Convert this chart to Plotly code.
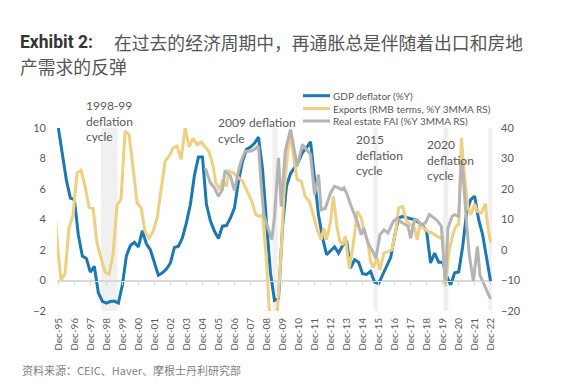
import pandas as pd
import plotly.graph_objects as go

# ---------------- data ----------------
series_names = ["GDP deflator (%Y)", "Exports (RMB terms, %Y 3MMA RS)", "Real estate FAI (%Y 3MMA RS)"]

# GDP deflator, %Y, quarterly from Dec-95 to Dec-22 (left axis)
gdp_start = "1995-12-01"
gdp_deflator = [
    10.0, 8.4, 6.6, 5.4, 5.3, 3.0, 1.6, 1.45, 0.55, 0.93,
    -0.8, -1.37, -1.48, -1.38, -1.35, -1.48, -0.3, 1.6, 2.3, 2.5,
    2.2, 3.27, 2.4, 2.0, 1.2, 0.34, 0.5, 0.75, 1.15, 2.15,
    2.25, 2.8, 3.8, 5.0, 6.9, 8.1, 8.1, 5.0, 3.9, 3.23,
    2.75, 3.56, 3.6, 4.1, 4.76, 6.5, 7.8, 8.6, 8.75, 9.0,
    9.4, 7.3, 3.8, 0.5, -1.3, -1.2, 3.5, 6.2, 7.0, 7.4,
    7.8, 8.4, 8.7, 9.1, 6.5, 4.3, 2.8, 1.7, 1.95, 2.2,
    1.8, 2.3, 2.6, 0.82, 1.37, 1.2, 0.45, 0.4, 0.6, -0.1,
    -0.2, 0.4, 0.9, 1.5, 2.9, 4.1, 4.2, 4.1, 4.05, 4.0,
    3.78, 3.6, 3.23, 1.15, 1.8, 1.2, 1.2, 0.3, -0.28, 0.5,
    0.56, 2.2, 4.5, 5.3, 5.53, 4.0, 3.0, 1.5, -0.1,
]

# Exports (RMB terms, %Y 3MMA), months after Dec-95 (right axis)
exports_months = [
    -2, 0, 2, 5, 8, 11, 14, 17, 20, 23, 26, 29, 32, 35, 38, 41, 44, 47, 50, 53,
    56, 59, 62, 65, 68, 71, 74, 77, 80, 83, 86, 89, 92, 95, 98, 101, 104, 107, 110, 113,
    116, 118, 121, 123, 126, 128, 131, 134, 138, 141, 145, 148, 151, 153, 156, 158, 161, 164, 167, 169,
    172, 174, 176, 179, 182, 185, 188, 191, 194, 197, 199, 201, 204, 206, 209, 211, 213, 215, 218, 221,
    224, 227, 229, 232, 234, 236, 239, 241, 244, 247, 250, 253, 255, 258, 261, 264, 267, 269, 271, 274,
    277, 280, 283, 286, 288, 290, 293, 296, 298, 300, 302, 304, 307, 309, 312, 314, 317, 320, 322, 324,
]
exports_yoy = [
    9.8, -1.6, -9.8, -7.9, 7.2, 11.6, 25.3, 26.1, 20.9, 14.0, 13.6, 2.3, -2.7, -7.3, -7.9, -1.6, 14.7, 16.7, 39.0, 37.9,
    26.9, 15.4, 13.8, 6.1, 3.9, 6.1, 10.5, 19.3, 29.1, 30.8, 33.5, 34.1, 29.7, 40.1, 33.8, 36.6, 34.5, 35.4, 33.8, 32.2,
    27.5, 22.0, 19.8, 23.1, 20.9, 25.9, 25.3, 24.2, 22.6, 19.8, 16.0, 11.6, 11.0, 11.6, -3.8, -19.5, -23.0, -21.0, -0.5, 18.2,
    32.4, 39.0, 31.3, 23.1, 22.6, 17.6, 16.0, 11.6, 6.6, 3.4, 7.2, 3.4, 9.4, 17.6, 7.2, 2.8, 1.7, 4.5, -6.0, 1.7,
    12.7, 10.5, 6.1, 2.8, -3.8, -5.7, -2.7, -6.5, -1.0, -0.5, 0.1, 6.6, 13.8, 14.3, 9.4, 8.3, 7.2, 3.4, 8.3, 7.2,
    6.1, 5.6, 4.8, 3.9, 3.9, -12.0, 0.1, 5.6, 7.8, 8.3, 36.8, 25.9, 13.8, 11.6, 15.1, 12.7, 12.1, 15.2, 7.2, 2.5,
]

# Real estate FAI (%Y 3MMA), months after Dec-95 (right axis)
realestate_months = [
    110, 114, 117, 120, 123, 125, 129, 132, 135, 137, 140, 144, 147, 150, 152, 154, 157, 160, 162, 165,
    167, 170, 174, 177, 179, 183, 186, 189, 192, 195, 197, 200, 204, 207, 210, 212, 214, 216, 219, 222,
    224, 227, 229, 232, 235, 238, 241, 244, 247, 251, 254, 256, 259, 262, 264, 267, 269, 272, 275, 278,
    281, 284, 287, 290, 292, 295, 297, 300, 302, 303, 306, 308, 311, 314, 316, 319, 322, 324,
]
realestate_yoy = [
    26.9, 22.0, 20.4, 17.6, 19.8, 26.1, 24.2, 19.5, 25.9, 29.1, 32.4, 32.4, 33.0, 34.1, 21.4, 11.6, 7.2, 3.4, 11.0, 30.2,
    14.3, 32.4, 39.5, 32.4, 27.5, 34.6, 33.0, 31.3, 18.2, 24.7, 13.2, 13.6, 18.7, 20.9, 20.4, 19.8, 20.4, 18.7, 14.9, 11.6,
    9.4, 5.0, 7.2, 2.3, 0.1, -2.7, 5.0, 6.6, 5.6, 9.4, 10.5, 9.4, 8.5, 7.8, 3.9, 9.9, 9.9, 8.3, 8.8, 11.6,
    10.7, 9.6, 7.8, -10.9, 7.2, 11.0, 11.6, 11.0, 29.1, 26.9, 8.3, -1.6, -10.3, 1.2, -8.2, -11.4, -14.2, -16.0,
]

# deflation cycle shading (start, end)
band_starts = ["1998-08-01", "2009-04-15", "2015-08-10", "2019-12-15", "2022-10-10"]
band_ends = ["1999-08-15", "2009-08-15", "2015-11-15", "2020-04-10", "2022-12-31"]
band_labels = ["1998-99<br>deflation<br>cycle", "2009 deflation<br>cycle",
               "2015<br>deflation<br>cycle", "2020<br>deflation<br>cycle"]

tick_dates = ["1995-12-01", "1996-12-01", "1997-12-01", "1998-12-01", "1999-12-01", "2000-12-01",
              "2001-12-01", "2002-12-01", "2003-12-01", "2004-12-01", "2005-12-01", "2006-12-01",
              "2007-12-01", "2008-12-01", "2009-12-01", "2010-12-01", "2011-12-01", "2012-12-01",
              "2013-12-01", "2014-12-01", "2015-12-01", "2016-12-01", "2017-12-01", "2018-12-01",
              "2019-12-01", "2020-12-01", "2021-12-01", "2022-12-01"]
tick_labels = ["Dec-95", "Dec-96", "Dec-97", "Dec-98", "Dec-99", "Dec-00", "Dec-01", "Dec-02",
               "Dec-03", "Dec-04", "Dec-05", "Dec-06", "Dec-07", "Dec-08", "Dec-09", "Dec-10",
               "Dec-11", "Dec-12", "Dec-13", "Dec-14", "Dec-15", "Dec-16", "Dec-17", "Dec-18",
               "Dec-19", "Dec-20", "Dec-21", "Dec-22"]
left_ticks = [-2, 0, 2, 4, 6, 8, 10]
right_ticks = [-20, -10, 0, 10, 20, 30, 40]

# ---------------- styling ----------------
BLUE = "#1a78b2"
YELLOW = "#efcf80"
GRAY = "#b4b4b4"
colors = [BLUE, YELLOW, GRAY]
TXT = "#595959"
FONT = "Lato"
CJK = "Noto Sans CJK SC"

# the page body has an 8px margin, so the figure is drawn 8px smaller and
# all positions below are given in window pixels and shifted by OFF
OFF = 8
W, H = 561 - OFF, 390 - OFF
PL, PR, PT, PB = 57, 492, 128, 311          # plot area edges in window pixels
L, R, T, B = PL - OFF, W - (PR - OFF), PT - OFF, H - (PB - OFF)


def px(x):
    return (x - PL) / (PR - PL)


def py(y):
    return (PB - y) / (PB - PT)


base = pd.Timestamp("1995-12-01")
gdp_dates = pd.date_range(gdp_start, periods=len(gdp_deflator), freq="3MS")
exp_dates = [base + pd.DateOffset(months=m) for m in exports_months]
re_dates = [base + pd.DateOffset(months=m) for m in realestate_months]
x_range = ["1995-11-01", "2022-12-31"]

fig = go.Figure()
fig.add_trace(go.Scatter(x=gdp_dates, y=gdp_deflator, mode="lines", name=series_names[0],
                         line=dict(color=BLUE, width=3), showlegend=False))
fig.add_trace(go.Scatter(x=exp_dates, y=exports_yoy, mode="lines", name=series_names[1],
                         line=dict(color=YELLOW, width=3), yaxis="y2", showlegend=False))
fig.add_trace(go.Scatter(x=re_dates, y=realestate_yoy, mode="lines", name=series_names[2],
                         line=dict(color=GRAY, width=3), yaxis="y2", showlegend=False))
# carrier for the tick marks drawn along the zero line
fig.add_trace(go.Scatter(x=[], y=[], xaxis="x2", yaxis="y", showlegend=False, hoverinfo="skip"))

for s, e in zip(band_starts, band_ends):
    fig.add_vrect(x0=s, x1=e, fillcolor="#f0f0f0", line_width=0, layer="below")

fig.update_layout(
    template="none",
    width=W, height=H,
    margin=dict(l=L, r=R, t=T, b=B, autoexpand=False),
    paper_bgcolor="white", plot_bgcolor="white",
    showlegend=False,
    xaxis=dict(type="date", range=x_range, tickvals=tick_dates, ticktext=tick_labels,
               tickangle=-90, tickfont=dict(family=FONT, size=10, color=TXT),
               showgrid=False, zeroline=False, showline=False, ticks="",
               ticklabelstandoff=4, automargin=False),
    xaxis2=dict(type="date", range=x_range, tickvals=tick_dates, overlaying="x",
                anchor="free", position=1 / 6, showticklabels=False, ticks="outside",
                ticklen=3, tickcolor="#d9d9d9", showline=True, linecolor="#d9d9d9",
                linewidth=1, showgrid=False, zeroline=False),
    yaxis=dict(range=[-2, 10], tickvals=left_ticks, showgrid=False, zeroline=True,
               zerolinecolor="#d9d9d9", zerolinewidth=1, showline=False, ticks="",
               tickfont=dict(family=FONT, size=11, color=TXT), ticklabelstandoff=10,
               automargin=False),
    yaxis2=dict(range=[-20, 40], tickvals=right_ticks, overlaying="y", side="right",
                showgrid=False, zeroline=False, showline=False, ticks="",
                tickfont=dict(family=FONT, size=11, color=TXT), ticklabelstandoff=8,
                automargin=False),
)

annotations = [
    dict(text="<b>Exhibit 2:</b>", x=px(18), y=py(42), font=dict(family="Roboto", size=17.5, color="#333333")),
    dict(text="在过去的经济周期中，再通胀总是伴随着出口和房地", x=px(112), y=py(42),
         font=dict(family=CJK, size=17.8, color="#555555")),
    dict(text="产需求的反弹", x=px(18), y=py(66), font=dict(family=CJK, size=17.8, color="#555555")),
    dict(text="资料来源：CEIC、Haver、摩根士丹利研究部", x=px(20), y=py(370),
         font=dict(family=CJK, size=11, color="#7f7f7f")),
]
for a in annotations:
    a.update(xref="paper", yref="paper", xanchor="left", yanchor="middle", showarrow=False)

label_pos = [(84, 96), (216, 113), (354, 130), (425, 135)]
for txt, (lx, ly) in zip(band_labels, label_pos):
    annotations.append(dict(text=txt, x=px(lx), y=py(ly), xref="paper", yref="paper",
                            xanchor="left", yanchor="top", align="left", showarrow=False,
                            font=dict(family=FONT, size=12, color=TXT)))

legend_rows = [95.7, 108.5, 121]
for name, col, ry in zip(series_names, colors, legend_rows):
    fig.add_shape(type="line", xref="paper", yref="paper", x0=px(303), x1=px(330),
                  y0=py(ry), y1=py(ry), line=dict(color=col, width=3))
    annotations.append(dict(text=name, x=px(331), y=py(ry), xref="paper", yref="paper",
                            xanchor="left", yanchor="middle", showarrow=False,
                            font=dict(family=FONT, size=10, color=TXT)))

fig.update_layout(annotations=annotations)
fig.write_html("out.html")
